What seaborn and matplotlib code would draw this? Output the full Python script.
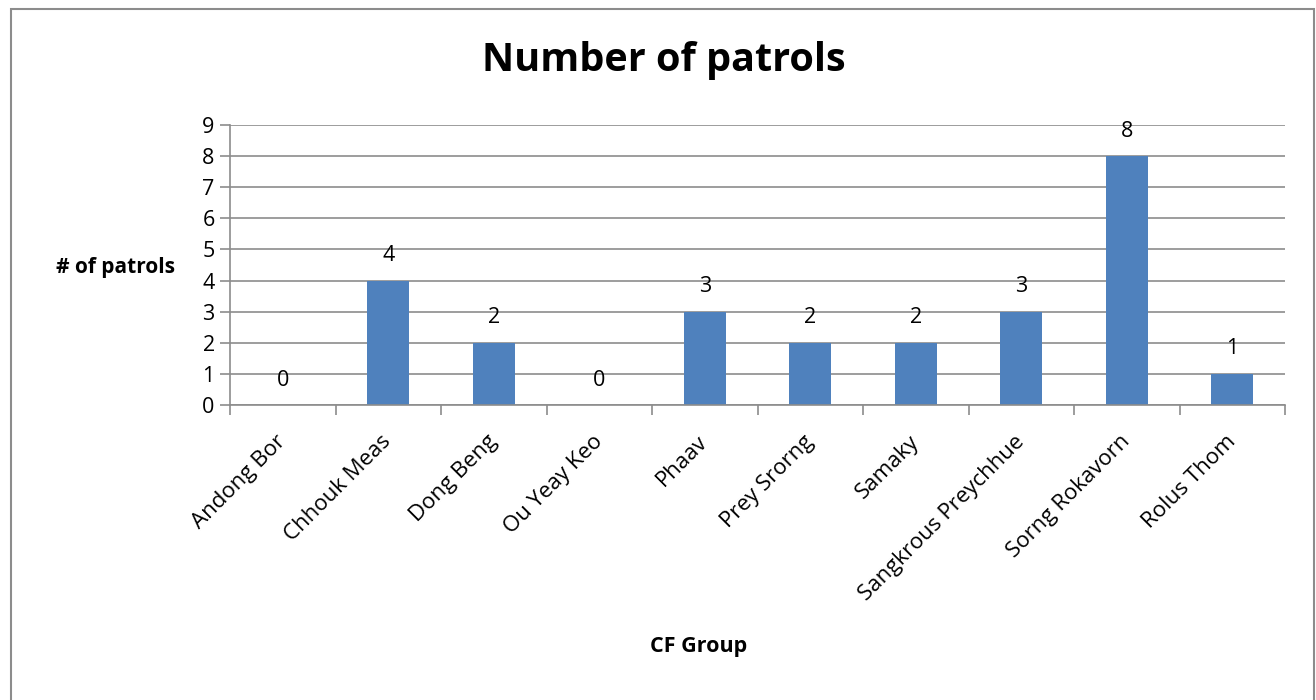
import matplotlib
matplotlib.use("Agg")
import matplotlib.pyplot as plt
import seaborn as sns
import pandas as pd
from matplotlib.ticker import FixedLocator
from matplotlib.patches import Rectangle

categories = ["Andong Bor", "Chhouk Meas", "Dong Beng", "Ou Yeay Keo", "Phaav",
              "Prey Srorng", "Samaky", "Sangkrous Preychhue", "Sorng Rokavorn", "Rolus Thom"]
patrols = [0, 4, 2, 0, 3, 2, 2, 3, 8, 1]

sns.set_theme(style="white")
plt.rcParams['font.family'] = ['Open Sans', 'DejaVu Sans']
plt.rcParams.update({"text.color": "black", "axes.labelcolor": "black",
                     "xtick.labelcolor": "black", "ytick.labelcolor": "black"})

df = pd.DataFrame({"group": categories, "patrols": patrols})

W, H = 1316, 700
fig = plt.figure(figsize=(W/100, H/100), dpi=100)
ax = fig.add_axes([230/W, 1-405/H, (1285-230)/W, (405-125)/H])

sns.barplot(data=df, x="group", y="patrols", hue="group", palette=["#4F81BD"]*len(categories),
            legend=False, width=0.4, ax=ax, saturation=1, linewidth=0)

ax.set_xlim(-0.5, len(categories)-0.5)
ax.set_ylim(0, 9)
ax.set_yticks(range(0, 10))
ax.yaxis.grid(True, color="#8c8c8c", linewidth=1.2)
ax.set_axisbelow(True)
for s in ["top", "right"]:
    ax.spines[s].set_visible(False)
for s in ["left", "bottom"]:
    ax.spines[s].set_color("#8c8c8c")
    ax.spines[s].set_linewidth(1.2)

ax.set_xticks(range(len(categories)))
ax.set_xticklabels(categories, rotation=45, ha="right", va="center", rotation_mode="anchor",
                   fontsize=16)
ax.tick_params(axis="x", which="major", length=0, pad=24)
ax.xaxis.set_minor_locator(FixedLocator([i-0.5 for i in range(len(categories)+1)]))
ax.tick_params(axis="x", which="minor", length=7, width=1.2, color="#8c8c8c", bottom=True)
ax.tick_params(axis="y", length=7, width=1.2, color="#8c8c8c", left=True, labelsize=15.5, pad=4)

for i, v in enumerate(patrols):
    ax.annotate(str(v), (i, v), xytext=(0, 18), textcoords="offset points",
                ha="center", va="center", fontsize=15.5)

ax.set_xlabel("CF Group", fontsize=15.5, fontweight="bold", labelpad=0)
ax.xaxis.set_label_coords((699-230)/(1285-230), -(636-405)/(405-125))
ax.set_ylabel("# of patrols", fontsize=15, fontweight="bold", rotation=0, ha="center", va="center")
ax.yaxis.set_label_coords(-(230-116)/(1285-230), (405-268)/(405-125))

fig.text(664/W, 1-61/H, "Number of patrols", fontsize=28.5, fontweight="bold",
         ha="center", va="center")

fig.patches.append(Rectangle((11/W, -0.05), (1314-11)/W, 1-9/H+0.05, transform=fig.transFigure,
                             fill=False, edgecolor="#8c8c8c", linewidth=1.5))

fig.savefig("out.png", dpi=100)
